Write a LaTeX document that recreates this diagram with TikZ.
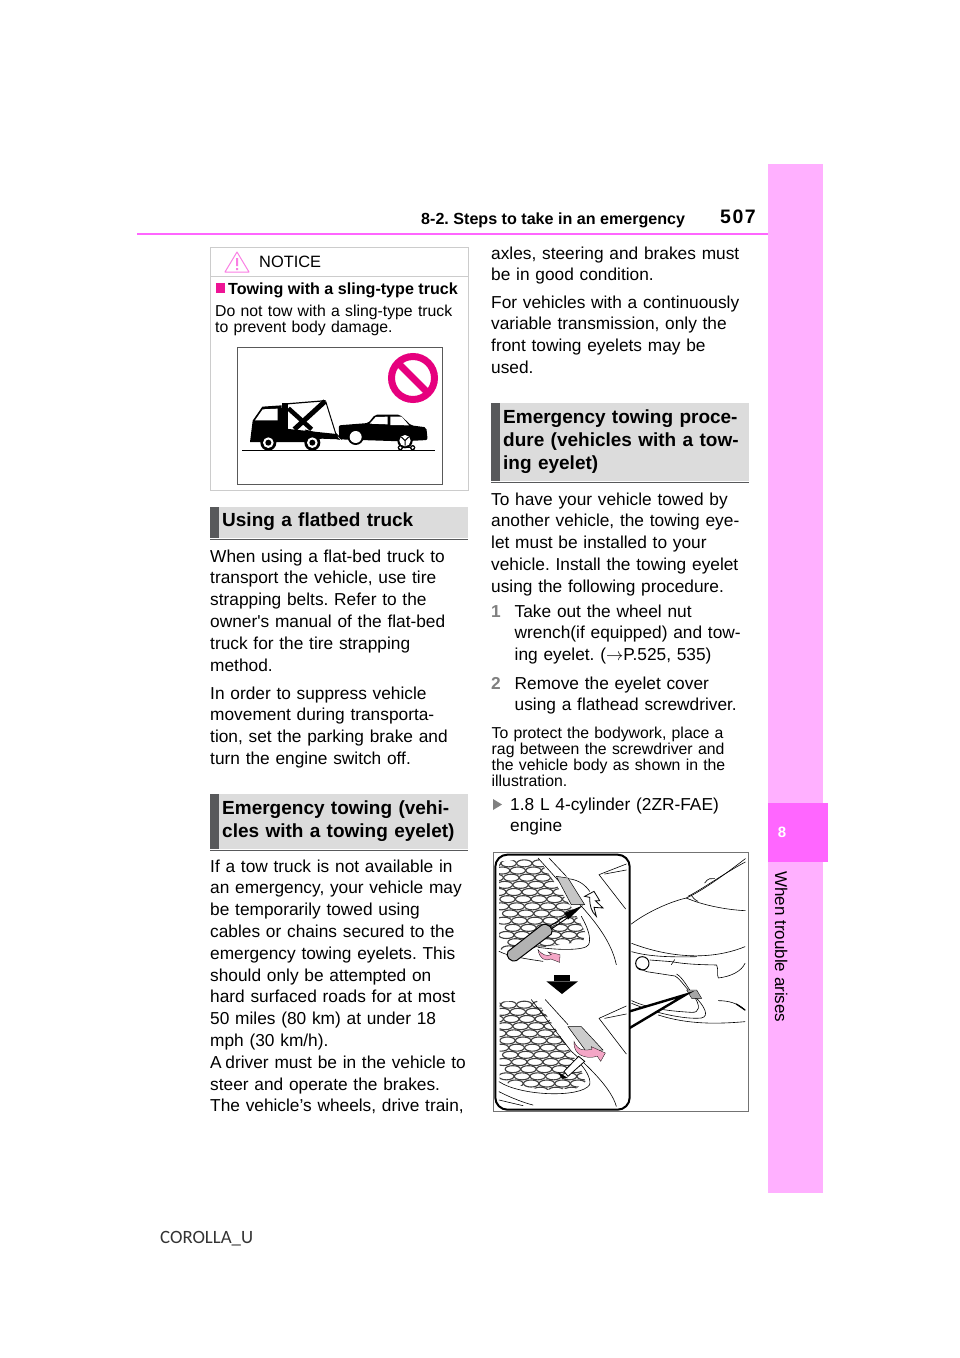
\documentclass[tikz,border=0pt]{standalone}
\usepackage{fontspec}
\setmainfont{Liberation Sans}[Ligatures=TeXOff]
\newfontfamily\footfont{Carlito}
\usetikzlibrary{calc}
\usetikzlibrary{positioning}

\definecolor{tabpink}{HTML}{FFB0FF}
\definecolor{rulepink}{HTML}{FF66FF}
\definecolor{signpink}{HTML}{E6007E}
\definecolor{headgray}{HTML}{DCDCDC}
\definecolor{bargray}{HTML}{58595B}
\definecolor{arrowpink}{HTML}{F4A6C6}

\tikzset{
  body/.style={anchor=base west,inner sep=0pt,text width=300pt,align=left,font=\fontsize{17.3}{21.8}\selectfont},
  small/.style={anchor=base west,inner sep=0pt,text width=300pt,align=left,font=\fontsize{15.8}{16.1}\selectfont},
  head/.style={anchor=base west,inner sep=0pt,text width=300pt,align=left,font=\fontsize{19}{23.3}\selectfont\bfseries},
  stepnum/.style={anchor=base west,inner sep=0pt,text=gray,font=\fontsize{17.3}{21.8}\selectfont\bfseries},
  art/.style={line width=0.6pt,line cap=round,line join=round},
  grille/.style={line width=1.1pt,black!75},
}

\begin{document}
\frenchspacing
\begin{tikzpicture}[x=1pt,y=-1pt]
\useasboundingbox (0,0) rectangle (960,1358);
\fill[white] (0,0) rectangle (960,1358);

% side tab
\fill[tabpink] (768,164) rectangle (823,1193);
\fill[rulepink] (768,803) rectangle (828,862);
\node[inner sep=0pt,text=white,font=\fontsize{15}{15}\selectfont\bfseries] (tabnum) at (782,832) {8};
\node[inner sep=0pt,rotate=-90,anchor=base west,font=\fontsize{17}{18}\selectfont] (tabtext) at (775,871) {When trouble arises};

% header
\draw[rulepink,line width=2.4pt] (137,234) -- (768,234);
\node[anchor=base west,inner sep=0pt,font=\fontsize{16.1}{18}\selectfont\bfseries] (headtext) at (421,224) {8-2. Steps to take in an emergency};
\node[anchor=base west,inner sep=0pt,font=\fontsize{19.5}{20}\selectfont\bfseries] (pagenum) at (720,223) {\addfontfeature{LetterSpace=8}507};

% notice box
\draw[black!20,line width=0.9pt] (210,247) rectangle (468,490);
\draw[black!20,line width=0.9pt] (210,276) -- (468,276);
\draw[rulepink!70!signpink!70,line width=1pt,line join=round] (237,252) -- (249,272) -- (225,272) -- cycle;
\fill[rulepink!70!signpink!70] (236,258) rectangle (238,266) (236,268) rectangle (238,270);
\node[anchor=base west,inner sep=0pt,font=\fontsize{16.4}{18}\selectfont] (notice) at (259,267) {NOTICE};
\fill[magenta!80!rulepink] (216,283) rectangle (225,293);
\node[anchor=base west,inner sep=0pt,font=\fontsize{16.1}{18}\selectfont\bfseries] (noticehead) at (228,294) {Towing with a sling-type truck};
\node[small] (noticetext) at (215,316) {Do not tow with a sling-type truck\\to prevent body damage.};

% tow truck picture
\draw[black!65,line width=0.9pt] (237,347) rectangle (442,484);
\draw[signpink,line width=7pt] (413,378) circle (21.5);
\draw[signpink,line width=7pt] (398,363) -- (428,393);
\begin{scope}[shift={(205,240)},scale=1/3]
\draw[black,line width=1.2pt] (112,632) -- (690,632);
% truck
\fill[black] (135,606) -- (143,542) -- (172,500) -- (230,496) -- (232,565) -- (395,582) -- (402,598) -- (350,596) -- (300,606) -- (215,606) -- cycle;
\fill[white] (150,541) -- (173,508) -- (218,506) -- (218,541) -- cycle;
\fill[black] (232,490) rectangle (248,568);
\draw[black,line width=1.2pt] (240,492) -- (362,482);
\draw[black,line width=4.5pt] (250,505) -- (320,568);
\draw[black,line width=5pt] (360,484) -- (268,568);
\draw[black,line width=1pt] (362,484) -- (392,580) -- (410,598);
\draw[black,line width=1pt] (300,570) -- (405,598);
\foreach \cx in {190,322} {
  \fill[black] (\cx,608) circle (24);
  \fill[white] (\cx,608) circle (16);
  \fill[black] (\cx,608) circle (9);
}
% car
\fill[black,rounded corners=2pt] (401,556) -- (490,549) -- (510,524) -- (585,524) -- (618,556) -- (664,562) -- (668,600) -- (590,604) -- (403,598) -- cycle;
\fill[white] (494,551) -- (512,531) -- (548,530) -- (548,553) -- cycle;
\fill[white] (556,530) -- (590,530) -- (612,556) -- (556,555) -- cycle;
\fill[black] (452,591) circle (24);
\fill[white] (452,591) circle (18);
\fill[black] (600,602) circle (23);
\fill[white] (600,602) circle (17);
\draw[black,line width=1pt] (600,602) -- (600,617) (600,602) -- (589,591) (600,602) -- (611,591);
\draw[black,line width=1.5pt] (585,622) -- (625,622);
\foreach \cx in {586,623} {
  \fill[black] (\cx,623) circle (8);
  \fill[white] (\cx,623) circle (4);
}
\end{scope}

% left column
\fill[headgray] (210,507) rectangle (468,538);
\fill[bargray] (210,507) rectangle (219,538);
\draw[bargray,line width=1pt] (210,539) -- (468,539);
\node[head] (flatbedhead) at (222,526) {Using a flatbed truck};
\node[body] (flatbedtext) at (210,562) {When using a flat-bed truck to\\transport the vehicle, use tire\\strapping belts. Refer to the\\owner's manual of the flat-bed\\truck for the tire strapping\\method.};
\node[body] (suppress) at (210,699) {In order to suppress vehicle\\movement during transporta-\\tion, set the parking brake and\\turn the engine switch off.};
\fill[headgray] (210,794) rectangle (468,849);
\fill[bargray] (210,794) rectangle (219,849);
\draw[bargray,line width=1pt] (210,850) -- (468,850);
\node[head] (emerghead) at (222,814) {Emergency towing (vehi-\\cles with a towing eyelet)};
\node[body] (emergtext) at (210,872) {If a tow truck is not available in\\an emergency, your vehicle may\\be temporarily towed using\\cables or chains secured to the\\emergency towing eyelets. This\\should only be attempted on\\hard surfaced roads for at most\\50 miles (80 km) at under 18\\mph (30 km/h).\\A\hspace{-2pt} driver must be in the vehicle to\\steer and operate the brakes.\\The vehicle’s wheels, drive train,};

% right column
\node[body] (axles) at (491,259) {axles, steering and brakes must\\be in good condition.};
\node[body] (cvt) at (491,308) {For vehicles with a continuously\\variable transmission, only the\\front towing eyelets may be\\used.};
\fill[headgray] (491,403) rectangle (749,481);
\fill[bargray] (491,403) rectangle (500,481);
\draw[bargray,line width=1pt] (491,482) -- (749,482);
\node[head] (prochead) at (503,423) {Emergency towing proce-\\dure (vehicles with a tow-\\ing eyelet)};
\node[body] (proctext) at (491,505) {To have your vehicle towed by\\another vehicle, the towing eye-\\let must be installed to your\\vehicle. Install the towing eyelet\\using the following procedure.};
\node[stepnum] (numone) at (491,617) {1};
\node[body] (stepone) at (514.5,617) {Take out the wheel nut\\wrench(if equipped) and tow-\\ing eyelet. ($\rightarrow$P.525, 535)};
\node[stepnum] (numtwo) at (491,689) {2};
\node[body] (steptwo) at (514.5,689) {Remove the eyelet cover\\using a flathead screwdriver.};
\node[small] (protect) at (491.5,738) {To protect the bodywork, place a\\rag between the screwdriver and\\the vehicle body as shown in the\\illustration.};
\fill[gray] (493,799) -- (502,804.5) -- (493,810) -- cycle;
\node[body] (engine) at (510,810) {1.8 L 4-cylinder (2ZR-FAE)\\engine};

% eyelet picture
\begin{scope}[shift={(488,848)},scale=1/3]
\draw[black!55,line width=1pt] (15,12) rectangle (780,790);
% car front on the right
\begin{scope}[art]
\draw (430,228) .. controls (480,190) and (550,160) .. (595,150) .. controls (640,130) and (710,80) .. (772,32);
\draw (600,145) .. controls (640,125) and (710,75) .. (772,42);
\draw (595,150) .. controls (640,170) and (710,185) .. (772,188);
\draw (610,142) .. controls (615,150) and (620,155) .. (630,160);
\draw (650,105) .. controls (660,90) and (670,90) .. (680,92);
\draw (431,286) .. controls (520,320) and (650,345) .. (771,296);
\draw (431,311) .. controls (480,325) and (540,328) .. (626,326);
\draw (486,336) -- (551,341) .. controls (600,350) and (650,350) .. (686,351) .. controls (692,365) and (686,380) .. (691,390) .. controls (730,385) and (760,370) .. (771,346);
\draw (560,335) -- (550,350);
\draw (476,371) -- (561,384) .. controls (580,395) and (595,425) .. (621,446) .. controls (650,475) and (665,505) .. (640,510) .. controls (590,515) and (500,495) .. (431,466);
\draw (566,378) .. controls (585,390) and (600,420) .. (615,440) .. controls (640,475) and (635,495) .. (610,493) .. controls (560,490) and (490,485) .. (431,458);
\draw (511,501) .. controls (600,530) and (690,528) .. (771,521);
\draw (691,458) .. controls (720,458) and (750,465) .. (771,486);
\draw[line width=1.3pt] (745,468) -- (771,486);
\draw[line width=1pt,fill=white] (463,346) circle (20);
\draw (447,358) -- (476,371);
\end{scope}
\fill[gray!70,draw=black,line width=0.4pt] (596,426) -- (626,426) -- (641,451) -- (611,451) -- cycle;
% callout
\draw[black,line width=2.4pt,fill=white,line join=miter] (425,490) -- (593,440) -- (425,540);
% inset
\draw[black,line width=2pt,fill=white,rounded corners=12pt] (22,20) rectangle (425,785);
\begin{scope}
\clip (33,48) -- (40,40) -- (150,30) -- (255,185) -- (293,255) -- (285,280) -- (150,300) -- (33,305) -- cycle;
\foreach \row in {0,...,12} {
  \foreach \col in {0,...,7} {
    \draw[grille] ({15+\col*47+mod(\row,2)*23.5+\row*4},{46+\row*21.5}) ellipse (23 and 10.5);
  }
}
\end{scope}
\begin{scope}
\clip (35,461) -- (145,456) -- (235,591) -- (275,656) -- (293,701) -- (265,721) -- (165,726) -- (35,701) -- cycle;
\foreach \row in {0,...,12} {
  \foreach \col in {0,...,7} {
    \draw[grille] ({15+\col*47+mod(\row,2)*23.5+\row*4},{470+\row*21.5}) ellipse (23 and 10.5);
  }
}
\end{scope}
\begin{scope}[art]
% panel lines near the inset edge
\draw (333,80) -- (415,48) (350,78) -- (415,66) (333,80) -- (413,183);
\draw (333,511) -- (415,474) (350,511) -- (415,498) (333,511) -- (415,618);
\draw (150,30) -- (285,180) .. controls (320,220) and (370,280) .. (385,350);
\draw (183,30) -- (235,85);
\draw (240,92) .. controls (275,95) and (295,115) .. (305,130);
\draw (33,310) .. controls (60,325) and (130,335) .. (165,340);
\draw (150,298) .. controls (200,305) and (290,310) .. (302,290) .. controls (310,270) and (300,240) .. (280,205);
\draw (130,455) -- (250,610) .. controls (300,655) and (370,720) .. (385,775);
\draw (172,455) -- (240,530);
\draw (33,731) .. controls (70,750) and (110,765) .. (135,771);
\draw (33,756) -- (105,773);
\draw (33,701) .. controls (100,745) and (280,750) .. (305,710) .. controls (310,690) and (290,660) .. (270,640);
\end{scope}
% cover, upper
\fill[gray!45,draw=black,line width=0.5pt] (205,85) -- (240,90) -- (290,170) -- (250,170) -- cycle;
% cover, lower
\fill[gray!40,draw=black,line width=0.5pt] (240,536) -- (280,536) -- (345,606) -- (295,611) -- cycle;
% screwdriver
\fill[black] (230,195) -- (285,172) -- (240,215) -- cycle;
\draw[black,line width=0.9pt] (180,238) -- (240,200);
\draw[black,line width=0.9pt] (186,246) -- (245,205);
\draw[black,fill=gray!60,line width=1pt] (60,310) -- (160,232) .. controls (180,220) and (200,245) .. (190,258) -- (85,338) .. controls (70,345) and (50,325) .. (60,310) -- cycle;
\fill[black] (210,672) -- (240,690) -- (222,692) -- cycle;
\draw[black,fill=white,line width=0.8pt] (228,670) -- (272,625) -- (290,640) -- (240,685) -- cycle;
% arrows
\fill[arrowpink,draw=black,line width=0.3pt] (150,305) .. controls (165,322) and (175,325) .. (190,320) -- (180,312) -- (216,320) -- (215,343) -- (188,333) .. controls (175,340) and (155,335) .. (150,305) -- cycle;
\draw[black,fill=white,line width=0.8pt] (290,145) -- (318,130) -- (335,158) -- (322,158) -- (345,180) -- (318,178) -- (325,205) .. controls (310,190) and (305,175) .. (305,148) -- cycle;
\fill[arrowpink,draw=black,line width=0.3pt] (258,580) .. controls (270,610) and (290,608) .. (312,604) -- (310,596) -- (352,615) -- (338,640) -- (328,625) .. controls (290,635) and (255,620) .. (258,580) -- cycle;
\fill[black] (199,382) rectangle (245,400);
\fill[black] (175,400) -- (270,400) -- (222,438) -- cycle;
\end{scope}

% footer
\node[anchor=base west,inner sep=0pt,text=black!80,font=\footfont\fontsize{18.8}{20}\selectfont] (footer) at (160,1243) {COROLLA\_U};
\end{tikzpicture}
\end{document}
